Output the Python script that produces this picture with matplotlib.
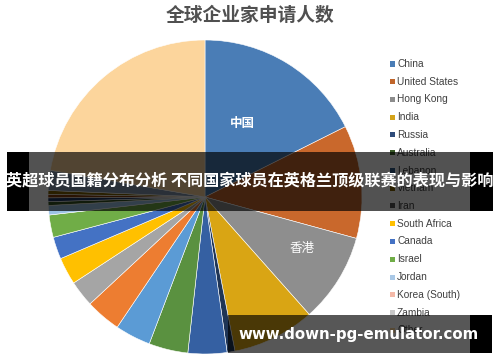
import matplotlib
matplotlib.use("Agg")
import matplotlib.pyplot as plt
from matplotlib.patches import Rectangle

# ---- data ----
slice_names = ["China", "United States", "Hong Kong", "India", "Russia", "Australia",
               "Lebanon", "Vietnam", "Iran", "South Africa", "Canada", "Israel",
               "Jordan", "Korea (South)", "Zambia", "Mexico", "Brazil", "Taiwan",
               "UK", "Other"]
slice_values = [63.4, 41.9, 33.1, 30.6, 2.9, 14.4, 14.5, 13.2, 13.1, 9.7, 10.1, 8.2,
                8.3, 3.5, 1.4, 1.4, 1.3, 1.4, 7.4, 80.2]
slice_colors = ["#4A7DB6", "#C9682C", "#8E8E8E", "#D9A514", "#1F3556", "#3560A2",
                "#5A9140", "#5B9BD5", "#ED7D31", "#A5A5A5", "#FFC000", "#4472C4",
                "#70AD47", "#9DC3E6", "#375623", "#203864", "#843C0C", "#7F6000",
                "#8497B0", "#FCD59C"]

legend_labels = ["China", "United States", "Hong Kong", "India", "Russia", "Australia",
                 "Lebanon", "Vietnam", "Iran", "South Africa", "Canada", "Israel",
                 "Jordan", "Korea (South)", "Zambia", "Other"]
legend_colors = ["#4A7DB6", "#C0652B", "#8C8C8C", "#D4A31A", "#2E4B7A", "#3A5A28",
                 "#2F5B85", "#7F6000", "#595959", "#FFC000", "#4472C4", "#70AD47",
                 "#A9C8E6", "#F4B9A8", "#C8C8C8", "#FCD59C"]

title = "全球企业家申请人数"
slice_texts = [("中国", 0.236, 0.471, "bold"), ("香港", 0.618, -0.331, "normal")]
banner_text = "英超球员国籍分布分析 不同国家球员在英格兰顶级联赛的表现与影响"
watermark = "www.down-pg-emulator.com"

W, H = 500, 362
fig = plt.figure(figsize=(W / 100, H / 100), dpi=100)
fig.patch.set_facecolor("white")

def fx(px):
    return px / W

def fy(py):
    return 1 - py / H

# pie axes: center (205,197), radius 157 px
cx, cy, r = 205, 197, 157
ax = fig.add_axes([fx(cx - r), fy(cy + r), 2 * r / W, 2 * r / H])
ax.pie(slice_values, colors=slice_colors, startangle=90, counterclock=False, radius=1,
       wedgeprops=dict(edgecolor="white", linewidth=0.4))
ax.set_xlim(-1, 1)
ax.set_ylim(-1, 1)
ax.set_aspect("auto")
ax.axis("off")

for t, x, y, w in slice_texts:
    ax.text(x, y, t, color="white", fontsize=9, fontweight=w, ha="center", va="center",
            family=["Noto Sans CJK SC", "DejaVu Sans"])

# title
fig.text(0.5, fy(15), title, ha="center", va="center", fontsize=13.5, color="#505050",
         fontweight="bold", family=["Noto Sans CJK SC", "DejaVu Sans"])

# legend
for i, (lab, col) in enumerate(zip(legend_labels, legend_colors)):
    ypx = 64 + i * 17.75
    fig.patches.append(Rectangle((fx(390), fy(ypx + 2.5)), 5 / W, 5 / H,
                                 transform=fig.transFigure, facecolor=col,
                                 edgecolor="none", zorder=3))
    fig.text(fx(397), fy(ypx), lab, ha="left", va="center", fontsize=7.3,
             color="#404040", family="Liberation Sans", zorder=3)

# banner
b_top, b_bot = 152, 211
fig.patches.append(Rectangle((fx(7), fy(b_bot)), (493 - 7) / W, (b_bot - b_top) / H,
                             transform=fig.transFigure, facecolor="black", alpha=0.68,
                             edgecolor="none", zorder=10))
for x0, x1 in [(7, 29), (470, 493)]:
    fig.patches.append(Rectangle((fx(x0), fy(b_bot)), (x1 - x0) / W, (b_bot - b_top) / H,
                                 transform=fig.transFigure, facecolor="black",
                                 edgecolor="none", zorder=11))
fig.text(0.5, fy(181), banner_text, ha="center", va="center", fontsize=11.6,
         fontweight="bold", color="white", family=["Noto Sans CJK SC", "DejaVu Sans"],
         zorder=12)

# watermark
w_top, w_bot = 315, 353
fig.patches.append(Rectangle((fx(228), fy(w_bot)), (470 - 228) / W, (w_bot - w_top) / H,
                             transform=fig.transFigure, facecolor="black", alpha=0.66,
                             edgecolor="none", zorder=10))
fig.patches.append(Rectangle((fx(470), fy(w_bot)), (492 - 470) / W, (w_bot - w_top) / H,
                             transform=fig.transFigure, facecolor="black",
                             edgecolor="none", zorder=11))
fig.text(fx(359), fy(335), watermark, ha="center", va="center", fontsize=10.8,
         fontweight="bold", color="white", family="DejaVu Sans", zorder=12)

fig.savefig("out.png", dpi=100)
